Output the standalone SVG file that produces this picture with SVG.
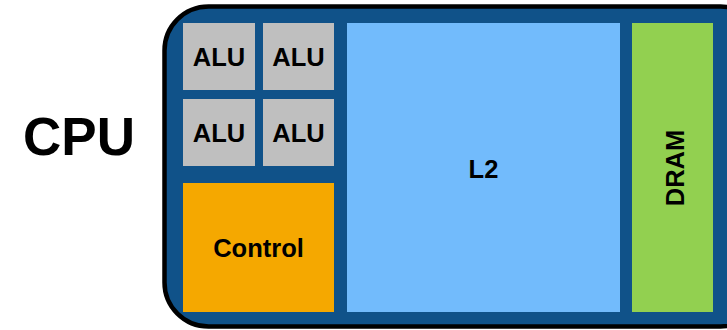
<svg xmlns="http://www.w3.org/2000/svg" width="727" height="330" viewBox="0 0 727 330">
<style>
text{font-family:"Liberation Sans",Arial,sans-serif;font-weight:bold;fill:#000;text-anchor:middle;dominant-baseline:central}
.lbl{font-size:25.5px}
.alu{fill:#bfbfbf}
</style>
<rect width="727" height="330" fill="#fff"/>
<text x="79" y="136" style="font-size:53px">CPU</text>
<g id="cpu">
<rect x="164.5" y="6.5" width="600" height="320" rx="44" fill="#105289" stroke="#000" stroke-width="4.5"/>
</g>
<g id="alu1"><rect class="alu" x="183" y="23" width="72" height="67"/><text class="lbl" x="219" y="57">ALU</text></g>
<g id="alu2"><rect class="alu" x="263" y="23" width="71" height="67"/><text class="lbl" x="298.5" y="57">ALU</text></g>
<g id="alu3"><rect class="alu" x="183" y="99" width="72" height="67"/><text class="lbl" x="219" y="133">ALU</text></g>
<g id="alu4"><rect class="alu" x="263" y="99" width="71" height="67"/><text class="lbl" x="298.5" y="133">ALU</text></g>
<g id="control"><rect x="183" y="183" width="151" height="129" fill="#f5a800"/><text class="lbl" x="258.5" y="248">Control</text></g>
<g id="l2"><rect x="347" y="23" width="273" height="289" fill="#72bbfc"/><text class="lbl" x="483.5" y="169">L2</text></g>
<g id="dram"><rect x="632" y="23" width="81" height="289" fill="#92d050"/><text class="lbl" transform="translate(675 168) rotate(-90)">DRAM</text></g>
<g id="connectors"/>
</svg>
